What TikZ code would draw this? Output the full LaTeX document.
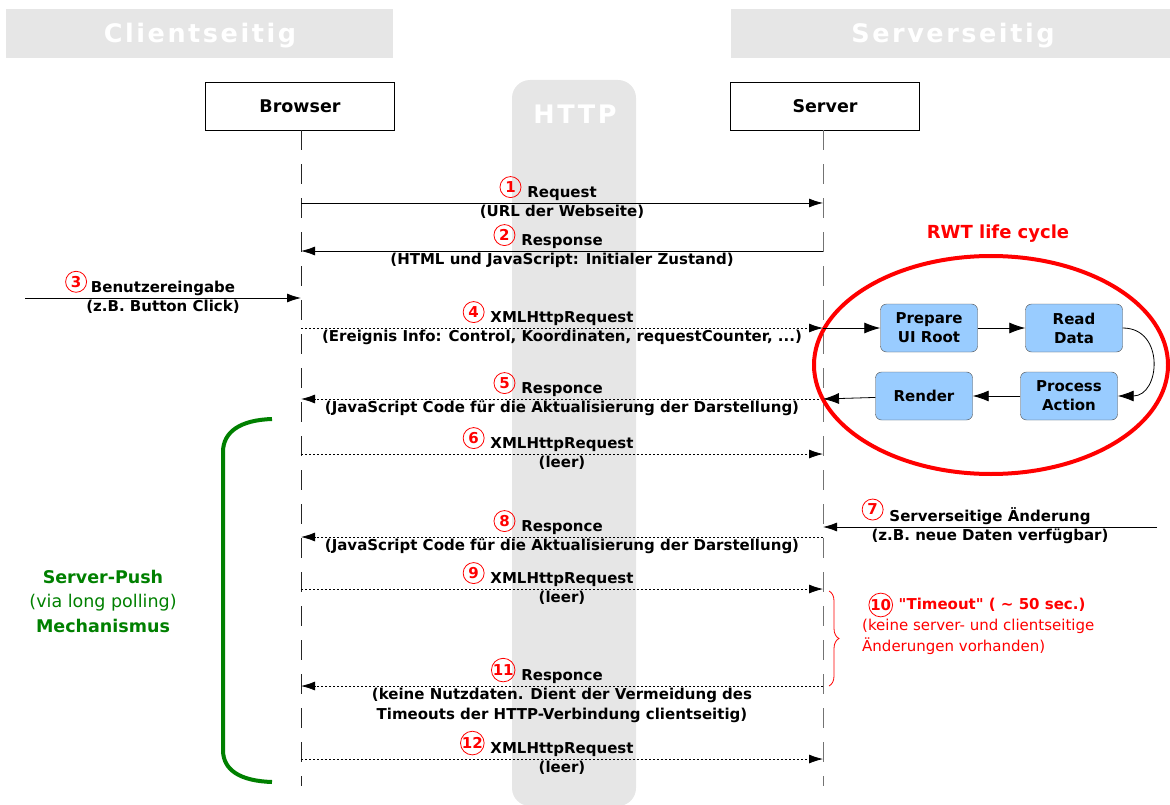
\documentclass[tikz,border=0pt]{standalone}
\usepackage{fontspec}
\setmainfont{DejaVu Sans}
\usepackage{tikz}
\usepackage{xcolor}
\usetikzlibrary{positioning,shapes,arrows.meta,calc,decorations.pathreplacing}

\definecolor{bandgray}{RGB}{230,230,230}
\definecolor{boxblue}{RGB}{153,204,255}
\definecolor{pushgreen}{RGB}{0,128,0}

\begin{document}
\begin{tikzpicture}[x=1pt,y=-1pt,
    lbl/.style={font=\bfseries\fontsize{15}{20}\selectfont, inner sep=1.5pt, align=center},
    nrcircle/.style={circle, draw=red, text=red, line width=0.8pt, inner sep=0pt, minimum size=21pt, font=\bfseries\fontsize{15}{15}\selectfont},
    header/.style={font=\bfseries\fontsize{25.5}{28}\selectfont\addfontfeatures{LetterSpace=10}, text=white},
    actor/.style={rectangle, draw, minimum width=189pt, minimum height=48pt, font=\bfseries\fontsize{17.5}{20}\selectfont},
    phase/.style={rectangle, rounded corners=6pt, draw=black!70, fill=boxblue, minimum width=97pt, minimum height=48pt, align=center, font=\bfseries\fontsize{15}{19}\selectfont},
    lifeline/.style={line width=1pt, dash pattern=on 20pt off 14pt},
    msg/.style={line width=0.8pt, -{Latex[length=14pt,width=9pt]}},
    msgdot/.style={msg, dash pattern=on 2pt off 2pt},
    bigarrow/.style={line width=0.8pt, -{Latex[length=16pt,width=11pt]}}]

\useasboundingbox (0,0) rectangle (1170,805);

% background bands
\fill[bandgray] (6,9) rectangle (393,58);
\fill[bandgray] (731,9) rectangle (1170,58);
\fill[bandgray, rounded corners=18pt] (512,80) rectangle (636,806);
\node[header] (client) at (200,36) {Clientseitig};
\node[header] (serverside) at (953,36) {Serverseitig};
\node[header] (http) at (575,114) {HTTP};

% actors and lifelines
\node[actor, fill=white] (browser) at (300,106) {Browser};
\node[actor, fill=white] (server) at (825,106) {Server};
\coordinate (bend) at (301,786);
\coordinate (send) at (823,786);
\draw[lifeline, black!85] (browser.south -| bend) -- (bend);
\draw[lifeline, black!55] (server.south -| send) -- (send);

\foreach \i/\y in {1/203,2/251,3/298,4/328,5/399,6/454,7/527,8/537,9/589,11/686,12/759} {
    \coordinate (b\i) at (301,\y);
    \coordinate (s\i) at (823,\y);
}
\coordinate (user) at (25,298);
\coordinate (change) at (1157,527);

% messages
\draw[msg] (b1) -- (s1) node[midway,above,lbl] (t1) {Request} node[midway,below,lbl] {(URL der Webseite)};
\node[nrcircle, left=4pt of t1.west, yshift=7pt] (n1) {1};

\draw[msg] (s2) -- (b2) node[midway,above,lbl] (t2) {Response} node[midway,below,lbl] {(HTML und JavaScript: Initialer Zustand)};
\node[nrcircle, left=4pt of t2.west, yshift=7pt] (n2) {2};

\draw[msg] (user) -- (b3) node[midway,above,lbl] (t3) {Benutzereingabe} node[midway,below,lbl] {(z.B. Button Click)};
\node[nrcircle, left=2pt of t3.west, yshift=7pt] (n3) {3};

\draw[msgdot] (b4) -- (s4) node[midway,above,lbl] (t4) {XMLHttpRequest} node[midway,below,lbl] {(Ereignis Info: Control, Koordinaten, requestCounter, ...)};
\node[nrcircle, left=4pt of t4.west, yshift=7pt] (n4) {4};

\draw[msgdot] (s5) -- (b5) node[midway,above,lbl] (t5) {Responce} node[midway,below,lbl] {(JavaScript Code für die Aktualisierung der Darstellung)};
\node[nrcircle, left=4pt of t5.west, yshift=7pt] (n5) {5};

\draw[msgdot] (b6) -- (s6) node[midway,above,lbl] (t6) {XMLHttpRequest} node[midway,below,lbl] {(leer)};
\node[nrcircle, left=4pt of t6.west, yshift=7pt] (n6) {6};

\draw[msg] (change) -- (s7) node[midway,above,lbl] (t7) {Serverseitige Änderung} node[midway,below,lbl] {(z.B. neue Daten verfügbar)};
\node[nrcircle, left=4pt of t7.west, yshift=7pt] (n7) {7};

\draw[msgdot] (s8) -- (b8) node[midway,above,lbl] (t8) {Responce} node[midway,below,lbl] {(JavaScript Code für die Aktualisierung der Darstellung)};
\node[nrcircle, left=4pt of t8.west, yshift=7pt] (n8) {8};

\draw[msgdot] (b9) -- (s9) node[midway,above,lbl] (t9) {XMLHttpRequest} node[midway,below,lbl] {(leer)};
\node[nrcircle, left=4pt of t9.west, yshift=7pt] (n9) {9};

\draw[msgdot] (s11) -- (b11) node[midway,above,lbl] (t11) {Responce} node[midway,below,lbl] {(keine Nutzdaten. Dient der Vermeidung des\\Timeouts der HTTP-Verbindung clientseitig)};
\node[nrcircle, left=4pt of t11.west, yshift=7pt] (n11) {11};

\draw[msgdot] (b12) -- (s12) node[midway,above,lbl] (t12) {XMLHttpRequest} node[midway,below,lbl] {(leer)};
\node[nrcircle, left=4pt of t12.west, yshift=7pt] (n12) {12};

% timeout
\draw[red, line width=0.8pt, decorate, decoration={brace, amplitude=10pt}] ($(s9)+(6,2)$) -- ($(s11)+(6,0)$);
\node[lbl, red, anchor=west] (tout) at (897,605) {\textquotedbl Timeout\textquotedbl{} ( \textasciitilde{} 50 sec.)};
\node[nrcircle, left=4pt of tout.west] (n10) {10};
\node[red, anchor=north west, align=left, inner sep=0pt, font=\fontsize{15}{21}\selectfont] (tnote) at (862,619) {(keine server- und clientseitige\\Änderungen vorhanden)};

% server push bracket
\draw[pushgreen, line width=4pt] (272,419) .. controls (240,420) and (223,432) .. (223,452) -- (223,750) .. controls (223,770) and (240,781) .. (272,782);
\node[pushgreen, align=center, font=\fontsize{17.5}{24.5}\selectfont] (push) at (103,601) {\textbf{Server-Push}\\(via long polling)\\\textbf{Mechanismus}};

% RWT life cycle
\node[red, font=\bfseries\fontsize{18}{22}\selectfont] (rwt) at (998,234) {RWT life cycle};
\node[ellipse, draw=red, line width=4pt, minimum width=354pt, minimum height=218pt] (cycle) at (991,365) {};
\node[phase] (prep) at (929,328) {Prepare\\UI Root};
\node[phase] (read) at (1074,328) {Read\\Data};
\node[phase] (proc) at (1069,396) {Process\\Action};
\node[phase] (render) at (924,396) {Render};

\draw[bigarrow] (s4) -- (prep);
\draw[bigarrow] (prep) -- (read);
\draw[bigarrow] (read.east) to[out=0,in=0,looseness=1.6] (proc.east);
\draw[bigarrow] (proc) -- (render);
\draw[bigarrow] (render) -- (s5);
\end{tikzpicture}
\end{document}
